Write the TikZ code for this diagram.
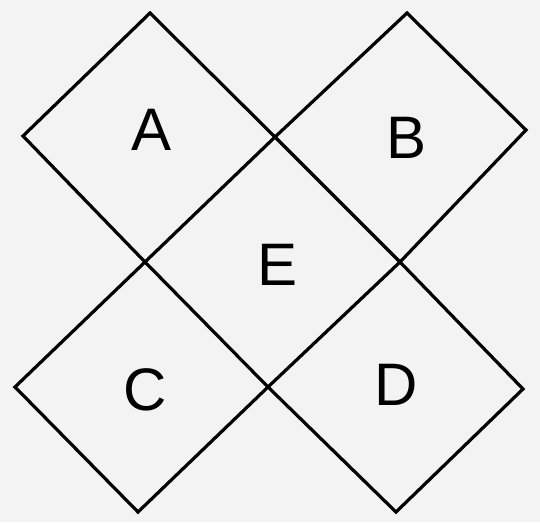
\documentclass[tikz,border=0pt]{standalone}
\usepackage{fontspec}
\setmainfont{Liberation Sans}
\definecolor{bg}{HTML}{F3F3F3}
\begin{document}
\begin{tikzpicture}[x=1pt,y=-1pt,
  edge/.style={draw=black,line width=3.2pt,line join=miter},
  lbl/.style={font=\fontsize{60}{60}\selectfont,inner sep=0pt,anchor=center}]
\fill[bg] (0,0) rectangle (540,522);
\useasboundingbox (0,0) rectangle (540,522);
% vertices
\coordinate (at) at (150,13);
\coordinate (al) at (23,136);
\coordinate (x1) at (275,137);
\coordinate (bt) at (407,13);
\coordinate (br) at (526,130);
\coordinate (x2) at (145,262);
\coordinate (x3) at (400,262);
\coordinate (cl) at (15,387);
\coordinate (x4) at (268,387);
\coordinate (dr) at (523,389);
\coordinate (cb) at (138,512);
\coordinate (db) at (396,512);
% diamonds
\draw[edge] (at) -- (x1) -- (x2) -- (al) -- cycle;
\draw[edge] (bt) -- (br) -- (x3) -- (x1) -- cycle;
\draw[edge] (x2) -- (x4) -- (cb) -- (cl) -- cycle;
\draw[edge] (x3) -- (dr) -- (db) -- (x4) -- cycle;
% labels
\node[lbl] (A) at (152,130) {A};
\node[lbl] (B) at (407,138) {B};
\node[lbl] (E) at (278,265) {E};
\node[lbl] (C) at (145,390) {C};
\node[lbl] (D) at (396,385) {D};
\end{tikzpicture}
\end{document}
